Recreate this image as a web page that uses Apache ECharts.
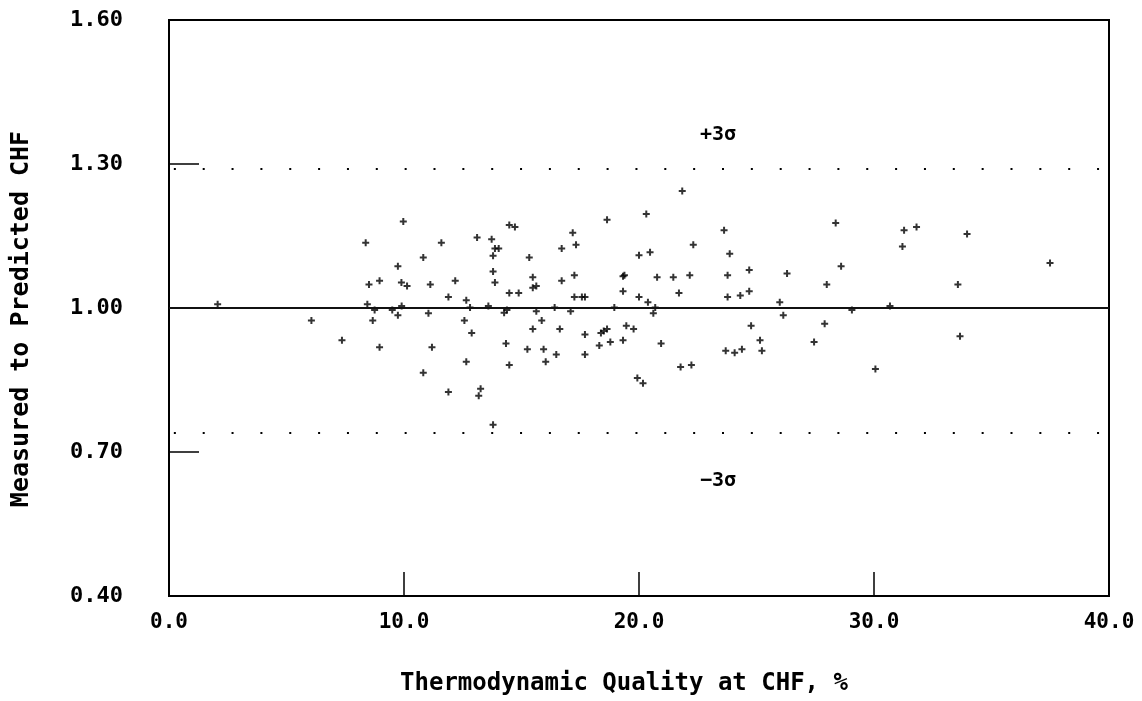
<!DOCTYPE html>
<html>
<head>
<meta charset="utf-8">
<script src="https://cdn.jsdelivr.net/npm/echarts@6/dist/echarts.min.js"></script>
<style>
  html, body { margin: 0; padding: 0; background: #fff; }
  #chart { width: 1142px; height: 701px; }
</style>
</head>
<body>
<div id="chart"></div>
<script>
// Thermodynamic quality at CHF (%) and measured/predicted CHF ratio
const qualityPct = [
  2.07, 6.06, 7.36,
  9.97, 8.37, 11.59, 10.82, 9.74, 8.51, 8.96, 9.89, 10.13, 11.12, 12.18, 11.89, 12.65,
  8.44, 8.75, 9.50, 9.90, 8.67, 9.74, 11.04, 12.81, 12.57, 12.88, 8.96, 11.19, 12.65, 10.82, 11.89,
  13.11, 13.73, 14.48, 14.72, 13.87, 14.03, 13.79, 15.33, 13.79, 13.87, 15.48, 15.48, 15.63, 14.48,
  14.88, 17.18, 17.32, 16.71, 16.71, 17.25, 17.25, 17.57, 17.70, 13.59, 14.26, 14.38, 15.63, 16.41,
  17.09, 15.86, 15.48, 16.63, 17.70, 14.34, 15.25, 15.94, 16.48, 17.70, 16.03, 14.48, 13.26, 13.18, 13.79,
  21.84, 18.64, 20.31, 20.00, 20.47, 22.31, 19.32, 19.38, 20.77, 21.46, 22.16, 19.32, 20.00, 20.38,
  21.70, 18.95, 20.69, 20.61, 19.46, 19.77, 18.38, 18.50, 18.64, 18.31, 18.78, 19.32, 20.94, 19.93,
  20.17, 21.77, 22.23,
  23.62, 23.86, 23.77, 24.69, 26.30, 23.77, 24.31, 24.69, 25.99, 27.99, 26.14, 24.77, 27.90, 25.15,
  27.45, 23.69, 24.07, 24.38, 25.23,
  28.37, 28.60, 29.06, 30.06, 30.68, 31.28, 31.21, 31.81, 33.96, 33.57, 33.66, 37.49
];
const chfRatio = [
  1.008, 0.974, 0.933,
  1.180, 1.136, 1.136, 1.105, 1.087, 1.049, 1.057, 1.053, 1.046, 1.049, 1.057, 1.023, 1.016,
  1.008, 0.996, 0.996, 1.004, 0.974, 0.985, 0.989, 1.001, 0.974, 0.948, 0.918, 0.918, 0.888, 0.865, 0.825,
  1.147, 1.143, 1.173, 1.169, 1.124, 1.124, 1.109, 1.105, 1.076, 1.053, 1.064, 1.042, 1.046, 1.031,
  1.031, 1.157, 1.132, 1.124, 1.057, 1.068, 1.023, 1.023, 1.023, 1.004, 0.990, 0.996, 0.993, 1.001,
  0.993, 0.974, 0.956, 0.956, 0.945, 0.926, 0.914, 0.914, 0.903, 0.903, 0.888, 0.881, 0.832, 0.817, 0.757,
  1.244, 1.184, 1.196, 1.110, 1.116, 1.132, 1.066, 1.068, 1.064, 1.064, 1.068, 1.035, 1.023, 1.012,
  1.031, 1.001, 1.001, 0.989, 0.963, 0.956, 0.948, 0.952, 0.956, 0.922, 0.929, 0.933, 0.926, 0.854,
  0.843, 0.877, 0.881,
  1.162, 1.113, 1.068, 1.079, 1.072, 1.023, 1.026, 1.035, 1.012, 1.049, 0.985, 0.963, 0.967, 0.933,
  0.929, 0.911, 0.907, 0.914, 0.911,
  1.177, 1.087, 0.996, 0.873, 1.004, 1.162, 1.128, 1.169, 1.154, 1.049, 0.941, 1.094
];

// reference lines
const meanRatio = 1.0;
const plus3Sigma = 1.289;
const minus3Sigma = 0.738;

const xTicks = [0, 40, 10];     // min, max, interval
const yTicks = [0.4, 1.6, 0.3];

const font = 'DejaVu Sans Mono';
const points = qualityPct.map((q, i) => [q, chfRatio[i]]);

const chart = echarts.init(document.getElementById('chart'));

const dotted = {
  color: '#000',
  width: 2,
  type: [2, 26.85],
  dashOffset: 24
};

const option = {
  animation: false,
  backgroundColor: '#fff',
  grid: {
    left: 169,
    right: 33,
    top: 20,
    bottom: 104,
    show: true,
    borderColor: '#000',
    borderWidth: 2,
    backgroundColor: 'transparent'
  },
  xAxis: {
    type: 'value',
    min: xTicks[0],
    max: xTicks[1],
    interval: xTicks[2],
    name: 'Thermodynamic Quality at CHF, %',
    nameLocation: 'middle',
    nameGap: 76,
    nameTextStyle: {
      fontFamily: font,
      fontWeight: 'bold',
      fontSize: 24,
      color: '#000',
      padding: [0, 30, 0, 0]
    },
    axisLine: { show: true, lineStyle: { color: '#000', width: 2 } },
    axisTick: { show: true, inside: true, length: 24, lineStyle: { color: '#000', width: 1.5 } },
    axisLabel: {
      margin: 16,
      fontFamily: font,
      fontWeight: 'bold',
      fontSize: 21,
      color: '#000',
      formatter: v => v.toFixed(1)
    },
    splitLine: { show: false }
  },
  yAxis: {
    type: 'value',
    min: yTicks[0],
    max: yTicks[1],
    interval: yTicks[2],
    name: 'Measured to Predicted CHF',
    nameLocation: 'middle',
    nameGap: 135,
    nameTextStyle: {
      fontFamily: font,
      fontWeight: 'bold',
      fontSize: 25,
      color: '#000',
      padding: [0, 22, 0, 0]
    },
    axisLine: { show: true, lineStyle: { color: '#000', width: 2 } },
    axisTick: { show: true, inside: true, length: 30, lineStyle: { color: '#000', width: 1.5 } },
    axisLabel: {
      margin: 46,
      fontFamily: font,
      fontWeight: 'bold',
      fontSize: 22,
      color: '#000',
      formatter: v => v.toFixed(2)
    },
    splitLine: { show: false }
  },
  series: [
    {
      type: 'scatter',
      data: points,
      symbol: 'path://M2.5,0H4.5V2.5H7V4.5H4.5V7H2.5V4.5H0V2.5H2.5Z',
      symbolSize: 7,
      itemStyle: { color: '#000' },
      markLine: {
        silent: true,
        symbol: 'none',
        label: { show: false },
        data: [
          { yAxis: meanRatio, lineStyle: { color: '#111', width: 2, type: 'solid' } },
          { yAxis: plus3Sigma, lineStyle: dotted },
          { yAxis: minus3Sigma, lineStyle: dotted }
        ]
      },
      markPoint: {
        silent: true,
        symbol: 'circle',
        symbolSize: 1,
        itemStyle: { color: 'transparent' },
        label: {
          show: true,
          position: 'inside',
          fontFamily: font,
          fontWeight: 'bold',
          fontSize: 20,
          color: '#000'
        },
        data: [
          { coord: [23.36, 1.36], label: { formatter: '+3σ' } },
          { coord: [23.36, 0.64], label: { formatter: '−3σ' } }
        ]
      }
    }
  ]
};

chart.setOption(option);
</script>
</body>
</html>
